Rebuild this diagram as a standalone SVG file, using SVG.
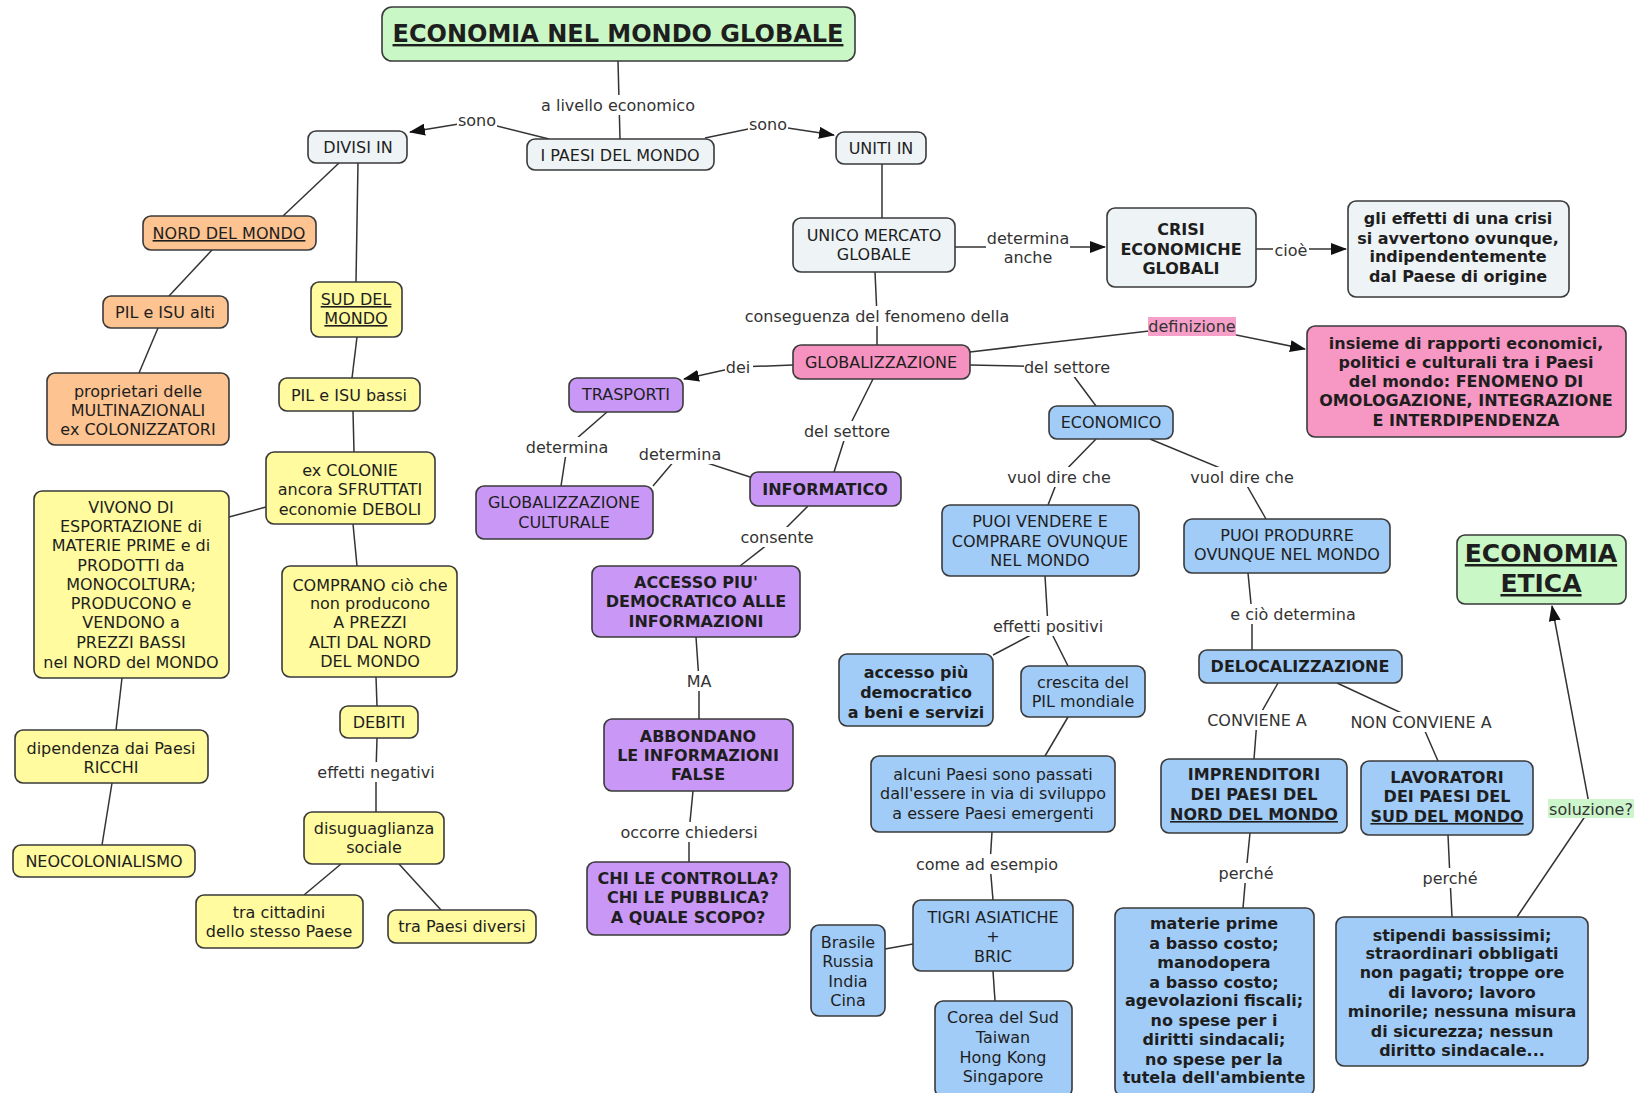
<svg xmlns="http://www.w3.org/2000/svg" width="1634" height="1093" viewBox="0 0 1634 1093">
<style>
.bg{fill:#ffffff}
.n rect{stroke:#3a3a3a;stroke-width:1.6}
text{font-family:"DejaVu Sans",Verdana,sans-serif;font-size:16px;fill:#1e1e1e;text-anchor:middle}
.b text,text.b{font-weight:bold}
.u{text-decoration:underline}
.grey{fill:#eef3f6}.org{fill:#fdc390}.yel{fill:#fffb9e}.pink{fill:#f592bf}.pur{fill:#c998f7}.blu{fill:#a1ccf8}.grn{fill:#c9f7c5}
.c polyline,.c line{stroke:#333;stroke-width:1.5;fill:none}
.lb rect{fill:#ffffff}
.lb text{fill:#333}
</style>
<defs>
<marker id="ar" markerUnits="userSpaceOnUse" markerWidth="16" markerHeight="12" refX="15" refY="6" orient="auto">
<path d="M0,0 L16,6 L0,12 z" fill="#111"/>
</marker>
</defs>
<rect class="bg" x="0" y="0" width="1634" height="1093"/>

<g id="connectors" class="c">
<line x1="618" y1="61" x2="620" y2="139"/>
<polyline points="549,139 477,121 410,132" marker-end="url(#ar)"/>
<polyline points="705,138 768,125 834,135" marker-end="url(#ar)"/>
<line x1="339" y1="163" x2="283" y2="216"/>
<line x1="358" y1="163" x2="356" y2="282"/>
<line x1="212" y1="250" x2="169" y2="296"/>
<line x1="158" y1="328" x2="139" y2="373"/>
<line x1="357" y1="337" x2="352" y2="378"/>
<line x1="353" y1="411" x2="354" y2="452"/>
<line x1="266" y1="507" x2="229" y2="517"/>
<line x1="353" y1="524" x2="357" y2="566"/>
<line x1="122" y1="678" x2="116" y2="730"/>
<line x1="112" y1="783" x2="102" y2="845"/>
<line x1="376" y1="677" x2="377" y2="706"/>
<polyline points="377,738 376,772 376,812"/>
<line x1="341" y1="864" x2="304" y2="895"/>
<line x1="399" y1="864" x2="441" y2="910"/>
<line x1="882" y1="164" x2="882" y2="218"/>
<polyline points="955,247 1028,247 1105,247" marker-end="url(#ar)"/>
<polyline points="1256,249 1291,249 1346,249" marker-end="url(#ar)"/>
<polyline points="875,272 877,316 877,345"/>
<polyline points="970,352 1192,326 1305,349" marker-end="url(#ar)"/>
<polyline points="793,365 738,367 684,379" marker-end="url(#ar)"/>
<polyline points="970,365 1067,367 1096,406"/>
<polyline points="873,379 847,431 834,472"/>
<polyline points="607,412 567,447 561,486"/>
<polyline points="750,477 680,454 653,486"/>
<polyline points="808,506 777,537 740,566"/>
<polyline points="696,637 699,681 699,719"/>
<polyline points="693,791 689,832 689,862"/>
<polyline points="1096,439 1059,477 1048,505"/>
<polyline points="1150,439 1242,477 1266,519"/>
<polyline points="1045,576 1048,626 993,655"/>
<line x1="1048" y1="626" x2="1068" y2="666"/>
<line x1="1068" y1="717" x2="1045" y2="756"/>
<polyline points="992,832 990,864 993,900"/>
<line x1="913" y1="944" x2="885" y2="949"/>
<line x1="993" y1="971" x2="995" y2="1001"/>
<polyline points="1248,573 1252,614 1252,650"/>
<polyline points="1278,683 1257,720 1254,759"/>
<polyline points="1337,683 1421,722 1438,761"/>
<polyline points="1250,833 1246,873 1243,908"/>
<polyline points="1448,835 1450,878 1452,917"/>
<polyline points="1517,917 1590,809 1552,606" marker-end="url(#ar)"/>

<g class="lb">
<rect x="542" y="95" width="152" height="20"/><text x="618" y="111">a livello economico</text>
<rect x="457" y="111" width="40" height="20"/><text x="477" y="126">sono</text>
<rect x="748" y="115" width="40" height="20"/><text x="768" y="130">sono</text>
<rect x="986" y="228" width="84" height="40"/><text x="1028" y="244">determina</text><text x="1028" y="263">anche</text>
<rect x="1273" y="240" width="36" height="20"/><text x="1291" y="256">cioè</text>
<rect x="747" y="306" width="260" height="20"/><text x="877" y="322">conseguenza del fenomeno della</text>
<rect x="1148" y="317" width="88" height="19" style="fill:#f6a0c9"/><text x="1192" y="332">definizione</text>
<rect x="725" y="357" width="28" height="20"/><text x="738" y="373">dei</text>
<rect x="1024" y="357" width="88" height="20"/><text x="1067" y="373">del settore</text>
<rect x="804" y="421" width="88" height="20"/><text x="847" y="437">del settore</text>
<rect x="527" y="437" width="80" height="20"/><text x="567" y="453">determina</text>
<rect x="640" y="444" width="80" height="20"/><text x="680" y="460">determina</text>
<rect x="741" y="527" width="72" height="20"/><text x="777" y="543">consente</text>
<rect x="686" y="671" width="26" height="20"/><text x="699" y="687">MA</text>
<rect x="620" y="822" width="138" height="20"/><text x="689" y="838">occorre chiedersi</text>
<rect x="317" y="762" width="118" height="20"/><text x="376" y="778">effetti negativi</text>
<rect x="1007" y="467" width="104" height="20"/><text x="1059" y="483">vuol dire che</text>
<rect x="1190" y="467" width="104" height="20"/><text x="1242" y="483">vuol dire che</text>
<rect x="991" y="616" width="114" height="20"/><text x="1048" y="632">effetti positivi</text>
<rect x="922" y="854" width="130" height="20"/><text x="987" y="870">come ad esempio</text>
<rect x="1233" y="604" width="120" height="20"/><text x="1293" y="620">e ciò determina</text>
<rect x="1208" y="710" width="98" height="20"/><text x="1257" y="726">CONVIENE A</text>
<rect x="1355" y="712" width="132" height="20"/><text x="1421" y="728">NON CONVIENE A</text>
<rect x="1219" y="863" width="54" height="20"/><text x="1246" y="879">perché</text>
<rect x="1423" y="868" width="54" height="20"/><text x="1450" y="884">perché</text>
<rect x="1548" y="799" width="86" height="19" style="fill:#cdf5cb"/><text x="1591" y="815">soluzione?</text>
</g>
</g>

<g id="n-title" class="n b"><rect class="grn" x="382" y="7" width="473" height="54" rx="10"/><text class="u" x="618" y="42" style="font-size:24px">ECONOMIA NEL MONDO GLOBALE</text></g>
<g id="n-paesi" class="n"><rect class="grey" x="527" y="139" width="187" height="31" rx="8"/><text x="620" y="161">I PAESI DEL MONDO</text></g>
<g id="n-divisi" class="n"><rect class="grey" x="308" y="131" width="99" height="32" rx="8"/><text x="358" y="153">DIVISI IN</text></g>
<g id="n-uniti" class="n"><rect class="grey" x="836" y="132" width="90" height="32" rx="8"/><text x="881" y="154">UNITI IN</text></g>
<g id="n-nord" class="n"><rect class="org" x="143" y="216" width="173" height="34" rx="8"/><text class="u" x="229" y="239">NORD DEL MONDO</text></g>
<g id="n-pilalti" class="n"><rect class="org" x="103" y="296" width="125" height="32" rx="8"/><text x="165" y="318">PIL e ISU alti</text></g>
<g id="n-proprietari" class="n"><rect class="org" x="47" y="373" width="182" height="72" rx="8"/><text x="138" y="397">proprietari delle</text><text x="138" y="416">MULTINAZIONALI</text><text x="138" y="435">ex COLONIZZATORI</text></g>
<g id="n-sud" class="n"><rect class="yel" x="311" y="282" width="91" height="55" rx="8"/><text class="u" x="356" y="305">SUD DEL</text><text class="u" x="356" y="324">MONDO</text></g>
<g id="n-pilbassi" class="n"><rect class="yel" x="279" y="378" width="141" height="33" rx="8"/><text x="349" y="401">PIL e ISU bassi</text></g>
<g id="n-excolonie" class="n"><rect class="yel" x="266" y="452" width="169" height="72" rx="8"/><text x="350" y="476">ex COLONIE</text><text x="350" y="495">ancora SFRUTTATI</text><text x="350" y="515">economie DEBOLI</text></g>
<g id="n-vivono" class="n"><rect class="yel" x="34" y="491" width="195" height="187" rx="8"/>
<text x="131" y="513">VIVONO DI</text><text x="131" y="532">ESPORTAZIONE di</text><text x="131" y="551">MATERIE PRIME e di</text><text x="131" y="571">PRODOTTI da</text><text x="131" y="590">MONOCOLTURA;</text><text x="131" y="609">PRODUCONO e</text><text x="131" y="628">VENDONO a</text><text x="131" y="648">PREZZI BASSI</text><text x="131" y="668">nel NORD del MONDO</text></g>
<g id="n-comprano" class="n"><rect class="yel" x="282" y="566" width="175" height="111" rx="8"/>
<text x="370" y="591">COMPRANO ciò che</text><text x="370" y="609">non producono</text><text x="370" y="628">A PREZZI</text><text x="370" y="648">ALTI DAL NORD</text><text x="370" y="667">DEL MONDO</text></g>
<g id="n-dipendenza" class="n"><rect class="yel" x="15" y="730" width="193" height="53" rx="8"/><text x="111" y="754">dipendenza dai Paesi</text><text x="111" y="773">RICCHI</text></g>
<g id="n-neocol" class="n"><rect class="yel" x="13" y="845" width="182" height="32" rx="8"/><text x="104" y="867">NEOCOLONIALISMO</text></g>
<g id="n-debiti" class="n"><rect class="yel" x="340" y="706" width="78" height="32" rx="8"/><text x="379" y="728">DEBITI</text></g>
<g id="n-disug" class="n"><rect class="yel" x="304" y="812" width="140" height="52" rx="8"/><text x="374" y="834">disuguaglianza</text><text x="374" y="853">sociale</text></g>
<g id="n-cittadini" class="n"><rect class="yel" x="196" y="895" width="167" height="53" rx="8"/><text x="279" y="918">tra cittadini</text><text x="279" y="937">dello stesso Paese</text></g>
<g id="n-trapaesi" class="n"><rect class="yel" x="388" y="910" width="148" height="33" rx="8"/><text x="462" y="932">tra Paesi diversi</text></g>

<g id="n-unico" class="n"><rect class="grey" x="793" y="218" width="162" height="54" rx="8"/><text x="874" y="241">UNICO MERCATO</text><text x="874" y="260">GLOBALE</text></g>
<g id="n-crisi" class="n b"><rect class="grey" x="1107" y="208" width="149" height="79" rx="8"/><text x="1181" y="235">CRISI</text><text x="1181" y="255">ECONOMICHE</text><text x="1181" y="274">GLOBALI</text></g>
<g id="n-effetti" class="n b"><rect class="grey" x="1348" y="201" width="221" height="96" rx="8"/><text x="1458" y="224">gli effetti di una crisi</text><text x="1458" y="244">si avvertono ovunque,</text><text x="1458" y="262">indipendentemente</text><text x="1458" y="282">dal Paese di origine</text></g>
<g id="n-global" class="n"><rect class="pink" x="793" y="345" width="177" height="34" rx="8"/><text x="881" y="368">GLOBALIZZAZIONE</text></g>
<g id="n-insieme" class="n b"><rect class="pink" x="1307" y="326" width="319" height="111" rx="8" style="fill:#f797c4"/><text x="1466" y="349">insieme di rapporti economici,</text><text x="1466" y="368">politici e culturali tra i Paesi</text><text x="1466" y="387">del mondo: FENOMENO DI</text><text x="1466" y="406">OMOLOGAZIONE, INTEGRAZIONE</text><text x="1466" y="426">E INTERDIPENDENZA</text></g>
<g id="n-trasporti" class="n"><rect class="pur" x="569" y="378" width="114" height="34" rx="8"/><text x="626" y="400">TRASPORTI</text></g>
<g id="n-globcult" class="n"><rect class="pur" x="476" y="486" width="177" height="53" rx="8"/><text x="564" y="508">GLOBALIZZAZIONE</text><text x="564" y="528">CULTURALE</text></g>
<g id="n-informatico" class="n b"><rect class="pur" x="750" y="472" width="151" height="34" rx="8"/><text x="825" y="495">INFORMATICO</text></g>
<g id="n-accesso" class="n b"><rect class="pur" x="592" y="566" width="208" height="71" rx="8"/><text x="696" y="588">ACCESSO PIU'</text><text x="696" y="607">DEMOCRATICO ALLE</text><text x="696" y="627">INFORMAZIONI</text></g>
<g id="n-abbondano" class="n b"><rect class="pur" x="604" y="719" width="189" height="72" rx="8"/><text x="698" y="742">ABBONDANO</text><text x="698" y="761">LE INFORMAZIONI</text><text x="698" y="780">FALSE</text></g>
<g id="n-chi" class="n b"><rect class="pur" x="587" y="862" width="203" height="73" rx="8"/><text x="688" y="884">CHI LE CONTROLLA?</text><text x="688" y="903">CHI LE PUBBLICA?</text><text x="688" y="923">A QUALE SCOPO?</text></g>

<g id="n-economico" class="n"><rect class="blu" x="1049" y="406" width="124" height="33" rx="8"/><text x="1111" y="428">ECONOMICO</text></g>
<g id="n-vendere" class="n"><rect class="blu" x="942" y="505" width="197" height="71" rx="8"/><text x="1040" y="527">PUOI VENDERE E</text><text x="1040" y="547">COMPRARE OVUNQUE</text><text x="1040" y="566">NEL MONDO</text></g>
<g id="n-produrre" class="n"><rect class="blu" x="1184" y="519" width="206" height="54" rx="8"/><text x="1287" y="541">PUOI PRODURRE</text><text x="1287" y="560">OVUNQUE NEL MONDO</text></g>
<g id="n-accbeni" class="n b"><rect class="blu" x="839" y="654" width="154" height="72" rx="8"/><text x="916" y="678">accesso più</text><text x="916" y="698">democratico</text><text x="916" y="718">a beni e servizi</text></g>
<g id="n-crescita" class="n"><rect class="blu" x="1021" y="666" width="124" height="51" rx="8"/><text x="1083" y="688">crescita del</text><text x="1083" y="707">PIL mondiale</text></g>
<g id="n-alcuni" class="n"><rect class="blu" x="871" y="756" width="244" height="76" rx="8"/><text x="993" y="780">alcuni Paesi sono passati</text><text x="993" y="799">dall'essere in via di sviluppo</text><text x="993" y="819">a essere Paesi emergenti</text></g>
<g id="n-tigri" class="n"><rect class="blu" x="913" y="900" width="160" height="71" rx="8"/><text x="993" y="923">TIGRI ASIATICHE</text><text x="993" y="942">+</text><text x="993" y="962">BRIC</text></g>
<g id="n-brasile" class="n"><rect class="blu" x="811" y="925" width="74" height="91" rx="8"/><text x="848" y="948">Brasile</text><text x="848" y="967">Russia</text><text x="848" y="987">India</text><text x="848" y="1006">Cina</text></g>
<g id="n-corea" class="n"><rect class="blu" x="935" y="1001" width="137" height="96" rx="8"/><text x="1003" y="1023">Corea del Sud</text><text x="1003" y="1043">Taiwan</text><text x="1003" y="1063">Hong Kong</text><text x="1003" y="1082">Singapore</text></g>
<g id="n-deloc" class="n b"><rect class="blu" x="1199" y="650" width="203" height="33" rx="8"/><text x="1300" y="672">DELOCALIZZAZIONE</text></g>
<g id="n-imprend" class="n b"><rect class="blu" x="1161" y="759" width="186" height="74" rx="8"/><text x="1254" y="780">IMPRENDITORI</text><text x="1254" y="800">DEI PAESI DEL</text><text class="u" x="1254" y="820">NORD DEL MONDO</text></g>
<g id="n-lavor" class="n b"><rect class="blu" x="1361" y="761" width="172" height="74" rx="8"/><text x="1447" y="783">LAVORATORI</text><text x="1447" y="802">DEI PAESI DEL</text><text class="u" x="1447" y="822">SUD DEL MONDO</text></g>
<g id="n-materie" class="n b"><rect class="blu" x="1115" y="908" width="199" height="188" rx="8"/>
<text x="1214" y="929">materie prime</text><text x="1214" y="949">a basso costo;</text><text x="1214" y="968">manodopera</text><text x="1214" y="988">a basso costo;</text><text x="1214" y="1006">agevolazioni fiscali;</text><text x="1214" y="1026">no spese per i</text><text x="1214" y="1045">diritti sindacali;</text><text x="1214" y="1065">no spese per la</text><text x="1214" y="1083">tutela dell'ambiente</text></g>
<g id="n-stipendi" class="n b"><rect class="blu" x="1336" y="917" width="252" height="149" rx="8"/>
<text x="1462" y="941">stipendi bassissimi;</text><text x="1462" y="959">straordinari obbligati</text><text x="1462" y="978">non pagati; troppe ore</text><text x="1462" y="998">di lavoro; lavoro</text><text x="1462" y="1017">minorile; nessuna misura</text><text x="1462" y="1037">di sicurezza; nessun</text><text x="1462" y="1056">diritto sindacale...</text></g>
<g id="n-etica" class="n b"><rect class="grn" x="1457" y="535" width="169" height="69" rx="8"/><text class="u" x="1541" y="562" style="font-size:25px">ECONOMIA</text><text class="u" x="1541" y="592" style="font-size:25px">ETICA</text></g>
</svg>
